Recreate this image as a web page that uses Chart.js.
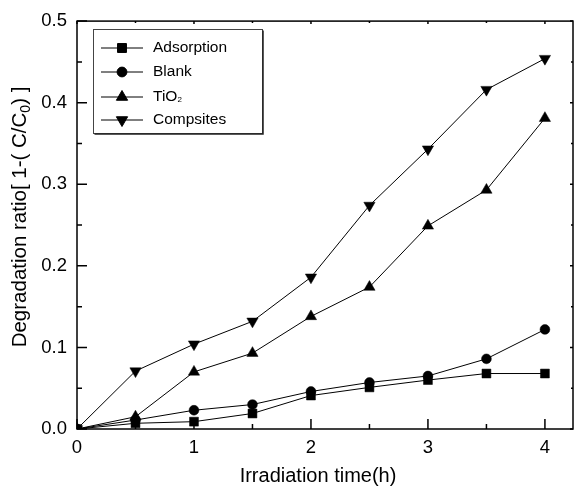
<!DOCTYPE html>
<html>
<head>
<meta charset="utf-8">
<script src="https://cdn.jsdelivr.net/npm/chart.js@4/dist/chart.umd.min.js"></script>
<style>
html,body{margin:0;padding:0;background:#fff;}
canvas{display:block;}
</style>
</head>
<body>
<canvas id="c" width="580" height="486"></canvas>
<script>
const xValues = [0, 0.5, 1, 1.5, 2, 2.5, 3, 3.5, 4];
const adsorption = [0, 0.007, 0.009, 0.019, 0.041, 0.051, 0.060, 0.068, 0.068];
const blank = [0, 0.011, 0.023, 0.030, 0.046, 0.057, 0.065, 0.086, 0.122];
const tio2 = [0, 0.015, 0.070, 0.093, 0.138, 0.174, 0.249, 0.293, 0.381];
const compsites = [0, 0.071, 0.104, 0.132, 0.186, 0.274, 0.343, 0.416, 0.454];
const seriesNames = ['Adsorption', 'Blank', 'TiO', 'Compsites'];
const xTickValues = [0, 1, 2, 3, 4];
const xMinorTicks = [0.5, 1.5, 2.5, 3.5];
const yTickValues = [0, 0.1, 0.2, 0.3, 0.4, 0.5];
const yMinorTicks = [0.05, 0.15, 0.25, 0.35, 0.45];
const xTitle = 'Irradiation time(h)';
const yTitleParts = ['Degradation ratio[ 1-( C/C', '0', ') ]'];

const FONT = '"Liberation Sans", Arial, sans-serif';

function pts(arr) { return xValues.map((x, i) => ({x: x, y: arr[i]})); }

const styles = [
  {pointStyle: 'rect', radius: 6.3, rotation: 0},
  {pointStyle: 'circle', radius: 4.9, rotation: 0},
  {pointStyle: 'triangle', radius: 6.5, rotation: 0},
  {pointStyle: 'triangle', radius: 6.5, rotation: 180}
];
const seriesData = [adsorption, blank, tio2, compsites];

const datasets = seriesData.map((arr, i) => ({
  label: seriesNames[i],
  data: pts(arr),
  showLine: true,
  borderColor: '#000',
  borderWidth: 1,
  backgroundColor: '#000',
  pointBackgroundColor: '#000',
  pointBorderColor: '#000',
  pointBorderWidth: 0.5,
  pointStyle: styles[i].pointStyle,
  pointRadius: styles[i].radius,
  pointRotation: styles[i].rotation,
  pointHoverRadius: styles[i].radius,
  tension: 0
}));

const decor = {
  id: 'decor',
  afterDraw(chart) {
    const ctx = chart.ctx;
    const xs = chart.scales.x, ys = chart.scales.y;
    const a = chart.chartArea;
    ctx.save();
    // frame
    ctx.strokeStyle = '#000';
    ctx.lineWidth = 1.5;
    ctx.strokeRect(a.left, a.top, a.right - a.left, a.bottom - a.top);
    ctx.lineWidth = 1.5;
    ctx.beginPath();
    xTickValues.forEach(v => {
      const px = xs.getPixelForValue(v);
      ctx.moveTo(px, a.bottom); ctx.lineTo(px, a.bottom - 10);
      ctx.moveTo(px, a.top); ctx.lineTo(px, a.top + 3);
    });
    xMinorTicks.forEach(v => {
      const px = xs.getPixelForValue(v);
      ctx.moveTo(px, a.bottom); ctx.lineTo(px, a.bottom - 5);
      ctx.moveTo(px, a.top); ctx.lineTo(px, a.top + 2);
    });
    yTickValues.forEach(v => {
      const py = ys.getPixelForValue(v);
      ctx.moveTo(a.left, py); ctx.lineTo(a.left + 10, py);
      ctx.moveTo(a.right, py); ctx.lineTo(a.right - 3, py);
    });
    yMinorTicks.forEach(v => {
      const py = ys.getPixelForValue(v);
      ctx.moveTo(a.left, py); ctx.lineTo(a.left + 5, py);
      ctx.moveTo(a.right, py); ctx.lineTo(a.right - 2, py);
    });
    ctx.stroke();

    // x title
    ctx.fillStyle = '#000';
    ctx.font = '20px ' + FONT;
    ctx.textAlign = 'center';
    ctx.textBaseline = 'alphabetic';
    ctx.fillText(xTitle, 318, 482);

    // y title with subscript
    ctx.save();
    ctx.translate(26, 217);
    ctx.rotate(-Math.PI / 2);
    ctx.textAlign = 'left';
    ctx.font = '20.5px ' + FONT;
    const w1 = ctx.measureText(yTitleParts[0]).width;
    const w3 = ctx.measureText(yTitleParts[2]).width;
    ctx.font = '14px ' + FONT;
    const w2 = ctx.measureText(yTitleParts[1]).width;
    const total = w1 + w2 + w3;
    let x0 = -total / 2;
    ctx.font = '20.5px ' + FONT;
    ctx.fillText(yTitleParts[0], x0, 0);
    ctx.font = '14px ' + FONT;
    ctx.fillText(yTitleParts[1], x0 + w1, 4);
    ctx.font = '20.5px ' + FONT;
    ctx.fillText(yTitleParts[2], x0 + w1 + w2, 0);
    ctx.restore();

    // legend
    const bx = 93.5, by = 29.5, bw = 169, bh = 104;
    ctx.fillStyle = '#fff';
    ctx.fillRect(bx, by, bw, bh);
    ctx.strokeStyle = '#444';
    ctx.lineWidth = 1;
    ctx.strokeRect(bx, by, bw, bh);
    ctx.strokeStyle = '#222';
    ctx.lineWidth = 1.5;
    ctx.beginPath();
    ctx.moveTo(bx + bw + 0.5, by + 1); ctx.lineTo(bx + bw + 0.5, by + bh + 0.5); ctx.lineTo(bx + 1, by + bh + 0.5);
    ctx.stroke();
    const rowsY = [48, 72, 97, 120];
    chart.data.datasets.forEach((ds, i) => {
      const ry = rowsY[i];
      ctx.strokeStyle = '#000';
      ctx.lineWidth = 1;
      ctx.beginPath();
      ctx.moveTo(101, ry); ctx.lineTo(143, ry);
      ctx.stroke();
      ctx.fillStyle = '#000';
      Chart.helpers.drawPoint(ctx, {
        pointStyle: styles[i].pointStyle,
        rotation: styles[i].rotation,
        radius: styles[i].radius,
        borderWidth: 0.5
      }, 122, ry);
      ctx.fillStyle = '#000';
      ctx.font = '15.5px ' + FONT;
      ctx.textAlign = 'left';
      ctx.textBaseline = 'middle';
      ctx.fillText(ds.label, 153, ry);
      if (i === 2) {
        const tw = ctx.measureText(ds.label).width;
        ctx.font = '8px ' + FONT;
        ctx.fillText('2', 153 + tw, ry + 3);
      }
    });
    ctx.restore();
  }
};

new Chart(document.getElementById('c'), {
  type: 'scatter',
  data: {datasets: datasets},
  options: {
    responsive: false,
    animation: false,
    events: [],
    layout: {padding: {top: 19, right: 1, left: 0, bottom: 0}},
    plugins: {legend: {display: false}, tooltip: {enabled: false}},
    scales: {
      x: {
        type: 'linear', min: 0, max: 4.24,
        grid: {display: false, drawTicks: false},
        border: {display: false},
        afterBuildTicks: s => { s.ticks = xTickValues.map(v => ({value: v})); },
        afterFit: s => { s.height = 57; },
        ticks: {color: '#000', font: {family: FONT, size: 18.5}, padding: 8, maxRotation: 0,
                callback: v => String(v)}
      },
      y: {
        type: 'linear', min: 0, max: 0.5,
        grid: {display: false, drawTicks: false},
        border: {display: false},
        afterBuildTicks: s => { s.ticks = yTickValues.map(v => ({value: v})); },
        afterFit: s => { s.width = 77; },
        ticks: {color: '#000', font: {family: FONT, size: 18.5}, padding: 10,
                callback: v => Number(v).toFixed(1)}
      }
    }
  },
  plugins: [decor]
});
</script>
</body>
</html>
